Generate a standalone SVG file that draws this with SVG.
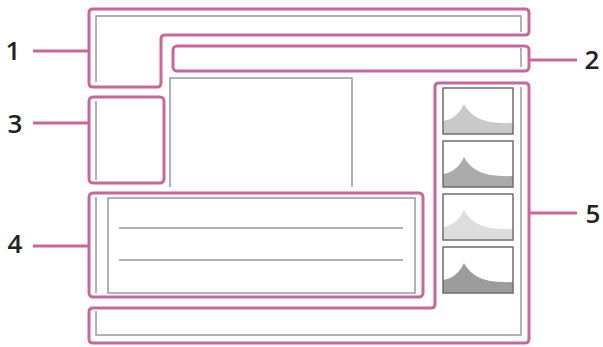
<svg xmlns="http://www.w3.org/2000/svg" width="603" height="347" viewBox="0 0 603 347">
<style>
.pk{fill:none;stroke:#c9679a;stroke-width:3;stroke-linejoin:round}
.ld{fill:none;stroke:#c9679a;stroke-width:3}
.gr{fill:none;stroke:#999;stroke-width:1.5}
.hb{fill:none;stroke:#6e6e6e;stroke-width:1.5}
.lb{font-family:"Open Sans","Noto Sans",sans-serif;font-size:26px;font-weight:600;fill:#222;text-anchor:middle}
</style>
<defs>
<path id="h" d="M0,33 Q14,31 21,16 Q28,30 47,34 Q57,35.5 70,35 V46 H0 Z" stroke="none"/>
</defs>
<rect width="603" height="347" fill="#fff"/>
<g id="screen">
<path class="gr" d="M96,82 V16 H521 V32"/>
<path class="gr" d="M521,48 V67"/>
<path class="gr" d="M96,101 V180"/>
<path class="gr" d="M96,197 V293"/>
<path class="gr" d="M96,311 V335 H521 V87"/>
<path class="gr" d="M170,187 V78 H352 V187"/>
</g>
<g id="n1">
<path class="pk" d="M89,13 Q89,9 93,9 H525 Q529,9 529,13 V31 Q529,35 525,35 H165 Q161,35 161,39 V83 Q161,87 157,87 H93 Q89,87 89,83 Z"/>
<text class="lb" x="13" y="60">1</text>
</g>
<g id="n2">
<rect class="pk" x="173" y="46" width="356" height="25" rx="4"/>
<text class="lb" x="592" y="69">2</text>
</g>
<g id="n3">
<rect class="pk" x="89" y="97" width="75" height="86" rx="4"/>
<text class="lb" x="15" y="133">3</text>
</g>
<g id="n4">
<rect class="pk" x="89" y="193" width="334" height="104" rx="4"/>
<rect class="gr" x="108" y="198" width="307" height="95"/>
<path class="gr" d="M119,228 H403 M119,260 H403"/>
<text class="lb" x="15" y="253">4</text>
</g>
<g id="n5">
<path class="pk" d="M435,87 Q435,83 439,83 H525 Q529,83 529,87 V339 Q529,343 525,343 H93 Q89,343 89,339 V312 Q89,308 93,308 H431 Q435,308 435,304 Z"/>
<use href="#h" x="443" y="88" fill="#c9c9c9"/>
<use href="#h" x="443" y="141" fill="#ababab"/>
<use href="#h" x="443" y="194" fill="#dedede"/>
<use href="#h" x="443" y="247" fill="#9c9c9c"/>
<rect class="hb" x="443" y="88" width="70" height="46"/>
<rect class="hb" x="443" y="141" width="70" height="46"/>
<rect class="hb" x="443" y="194" width="70" height="46"/>
<rect class="hb" x="443" y="247" width="70" height="46"/>
<text class="lb" x="593" y="223">5</text>
</g>
<g id="connectors">
<path class="ld" d="M33,51 H89"/>
<path class="ld" d="M33,123 H89"/>
<path class="ld" d="M33,246 H89"/>
<path class="ld" d="M529,60 H577"/>
<path class="ld" d="M529,213 H577"/>
</g>
</svg>
